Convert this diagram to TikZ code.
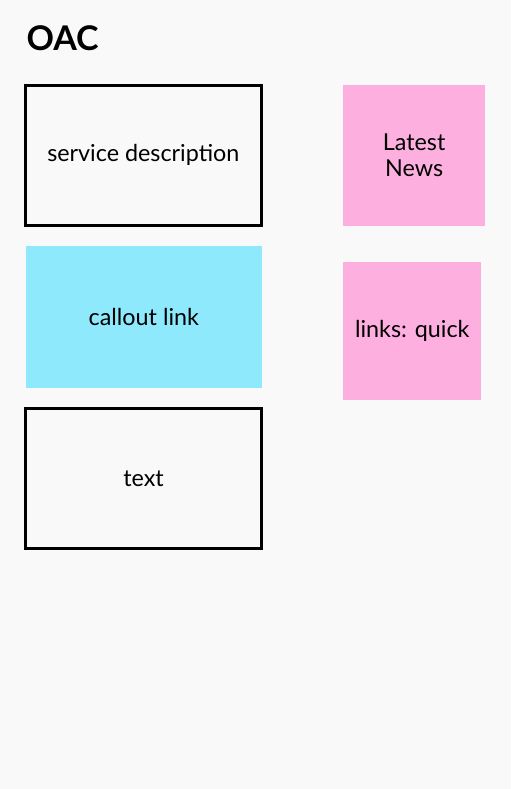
\documentclass[tikz,border=0pt]{standalone}
\usepackage{fontspec}
\setmainfont{Lato}
\definecolor{bgcol}{HTML}{F9F9F9}
\definecolor{calloutcol}{HTML}{8DE9FB}
\definecolor{newscol}{HTML}{FDB0E0}
\begin{document}
\begin{tikzpicture}[x=0.75pt, y=-0.75pt, line width=2.25pt,
	main/.style = {draw, rectangle, inner sep=0pt, outer sep=0pt, fill=bgcol, minimum width=235.5*0.75pt, minimum height=140.5*0.75pt, font=\fontsize{17.5}{20}\selectfont},
	fillbox/.style = {rectangle, inner sep=0pt, outer sep=0pt, align=center, font=\fontsize{17.5}{20}\selectfont}]

		\fill[bgcol] (0,0) rectangle (511,789);
		\useasboundingbox (0,0) rectangle (511,789);

		\node[anchor=base west, inner sep=0pt, font=\bfseries\fontsize{25.5}{28}\selectfont] (title) at (25,50) {OAC};

		\node[main] (desc) at (143.3,155.3) {service description};
		\node[fillbox, fill=calloutcol, minimum width=235.7*0.75pt, minimum height=141.7*0.75pt] (callout) at (143.85,316.85) {callout link};
		\node[main] (text) at (143.5,478.5) {text};

		\node[fillbox, fill=newscol, minimum width=141.7*0.75pt, minimum height=141*0.75pt] (news) at (414.15,155.2) {Latest\\News};
		\node[fillbox, fill=newscol, minimum width=138*0.75pt, minimum height=138*0.75pt] (quick) at (412.3,331.3) {links: quick};
	\end{tikzpicture}
\end{document}
